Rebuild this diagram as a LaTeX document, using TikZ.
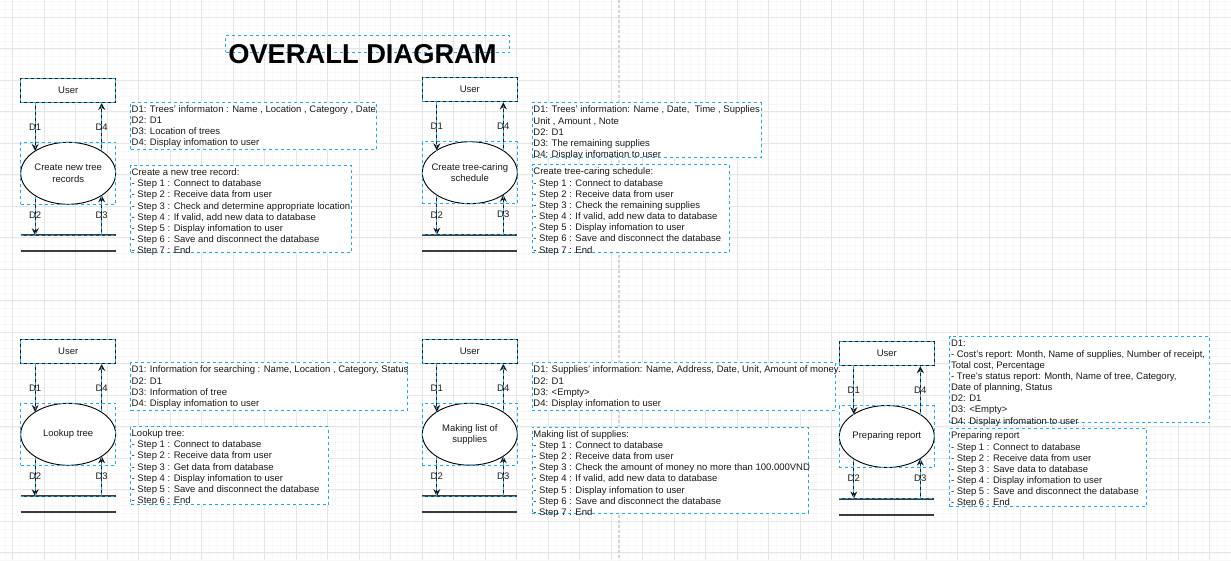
\documentclass[tikz,border=0pt]{standalone}
\usepackage{fontspec}
\setmainfont{Liberation Sans}
\usepackage{xcolor}
\usepackage{tikz}
\usetikzlibrary{arrows.meta,positioning,shapes.geometric}
\definecolor{ink}{RGB}{26,26,26}
\definecolor{selblue}{RGB}{30,170,240}
\definecolor{gridline}{RGB}{230,230,230}
\definecolor{gridfaint}{RGB}{248,248,248}
\definecolor{pagegray}{RGB}{212,212,212}
\definecolor{storegray}{RGB}{60,60,60}
\newcommand{\diagfont}{\fontsize{9.5}{11.15}\selectfont}
\tikzset{
  gridminor/.style={line width=0.6pt,draw=gridfaint},
  gridmajor/.style={line width=0.9pt,draw=gridline},
  pagebreak/.style={line width=1.6pt,draw=pagegray,dash pattern=on 3pt off 2pt},
  selected/.style={postaction={draw=selblue,line width=1pt,dash pattern=on 3pt off 3pt,-}},
  selframe/.style={draw=selblue,line width=1pt,dash pattern=on 3pt off 3pt,inner sep=0pt},
  userbox/.style={draw=ink,fill=white,line width=1.3pt,minimum width=95pt,minimum height=24pt,
    inner sep=0pt,font=\diagfont,text=ink,selected},
  process/.style={ellipse,draw=black,fill=white,line width=0.9pt,minimum width=95pt,minimum height=62pt,inner sep=0pt},
  proctext/.style={font=\diagfont,text=ink,align=center,inner sep=0pt},
  flow/.style={draw=ink,line width=1.3pt,-{Stealth[length=7pt,width=7pt]},selected},
  flowlabel/.style={font=\diagfont,text=ink,inner sep=0pt},
  store/.style={draw=storegray,line width=2pt},
  infobox/.style={selframe,fill=white,anchor=north west},
  infotext/.style={font=\diagfont,text=ink,align=left,anchor=north west,inner sep=0pt,xshift=1.5pt,yshift=-3.6pt}
}

\begin{document}
\begin{tikzpicture}[x=1pt,y=-1pt]
  \useasboundingbox (0,0) rectangle (1231,560);
  \fill[white] (0,0) rectangle (1231,560);
  \foreach \i in {-1,...,156} {\draw[gridminor] (12.7+7.875*\i,0)--(12.7+7.875*\i,560);}
  \foreach \i in {-2,...,70} {\draw[gridminor] (0,17.3+7.875*\i)--(1231,17.3+7.875*\i);}
  \foreach \i in {0,...,38} {\draw[gridmajor] (12.7+31.5*\i,0)--(12.7+31.5*\i,560);}
  \foreach \i in {0,...,17} {\draw[gridmajor] (0,17.3+31.5*\i)--(1231,17.3+31.5*\i);}
  \draw[pagebreak] (619,0)--(619,560);

  \node[selframe,anchor=north west,minimum width=284.3,minimum height=16.7] (titlebox) at (225,35) {};
  \node[font=\fontsize{27.3}{30}\selectfont\bfseries,anchor=base,inner sep=0pt] (title) at (362.5,63.3) {OVERALL DIAGRAM};

  \foreach \n/\x/\y/\txt in {cr/20.7/78.3/{Create new tree\\records},
      cs/422.3/77.7/{Create tree-caring\\schedule},
      lu/20.7/339.3/{Lookup tree},
      ml/422.3/339.2/{Making list of\\supplies},
      pr/839.3/341.5/{Preparing report}} {
    \node[userbox] (\n-user) at (\x+47.5,\y+12) {User};
    \node[process,label={[proctext]center:\txt}] (\n-proc) at (\x+47.5,\y+95) {};
    \node[selframe,minimum width=95,minimum height=62] (\n-frame) at (\n-proc) {};
    \coordinate (\n-d1) at (\x+14.5,\y+72.7);
    \coordinate (\n-d4) at (\x+81,\y+73);
    \coordinate (\n-d2) at (\x+14.5,\y+117.3);
    \coordinate (\n-d3) at (\x+81,\y+117);
    \coordinate (\n-store) at (\x,\y+157);
    \draw[store,selected] (\n-store)--++(95,0);
    \draw[store] (\x,\y+173)--++(95,0);
    \draw[flow] (\n-d1 |- \n-user.south) -- node[flowlabel]{D1} (\n-d1);
    \draw[flow] (\n-d4) -- node[flowlabel]{D4} (\n-d4 |- \n-user.south);
    \draw[flow] (\n-d2) -- node[flowlabel]{D2} (\n-d2 |- \n-store);
    \draw[flow] (\n-d3 |- \n-store) -- node[flowlabel]{D3} (\n-d3);
  }

  \node[infobox,minimum width=245.7,minimum height=47.3] (cr-data) at (130,101.7) {};
  \node[infotext] at (cr-data.north west) {D1: Trees' informaton : Name , Location , Category , Date\\D2: D1\\D3: Location of trees\\D4: Display infomation to user};
  \node[infobox,minimum width=221,minimum height=86.7] (cr-steps) at (130,165) {};
  \node[infotext] at (cr-steps.north west) {Create a new tree record:\\- Step 1 : Connect to database\\- Step 2 : Receive data from user\\- Step 3 : Check and determine appropriate location\\- Step 4 : If valid, add new data to database\\- Step 5 : Display infomation to user\\- Step 6 : Save and disconnect the database\\- Step 7 : End};

  \node[infobox,minimum width=229,minimum height=55] (cs-data) at (531.7,102.3) {};
  \node[infotext] at (cs-data.north west) {D1: Trees' information: Name , Date,\ \ Time , Supplies\\Unit , Amount , Note\\D2: D1\\D3: The remaining supplies\\D4: Display infomation to user};
  \node[infobox,minimum width=197.6,minimum height=87.4] (cs-steps) at (531.7,164.3) {};
  \node[infotext] at (cs-steps.north west) {Create tree-caring schedule:\\- Step 1 : Connect to database\\- Step 2 : Receive data from user\\- Step 3 : Check the remaining supplies\\- Step 4 : If valid, add new data to database\\- Step 5 : Display infomation to user\\- Step 6 : Save and disconnect the database\\- Step 7 : End};

  \node[infobox,minimum width=276.7,minimum height=47.7] (lu-data) at (130,362.3) {};
  \node[infotext] at (lu-data.north west) {D1: Information for searching : Name, Location , Category, Status\\D2: D1\\D3: Information of tree\\D4: Display infomation to user};
  \node[infobox,minimum width=197.7,minimum height=78.3] (lu-steps) at (130,426) {};
  \node[infotext] at (lu-steps.north west) {Lookup tree:\\- Step 1 : Connect to database\\- Step 2 : Receive data from user\\- Step 3 : Get data from database\\- Step 4 : Display infomation to user\\- Step 5 : Save and disconnect the database\\- Step 6 : End};

  \node[infobox,minimum width=303.3,minimum height=47.7] (ml-data) at (531.7,362.3) {};
  \node[infotext] at (ml-data.north west) {D1: Supplies' information: Name, Address, Date, Unit, Amount of money.\\D2: D1\\D3: <Empty>\\D4: Display infomation to user};
  \node[infobox,minimum width=276,minimum height=86] (ml-steps) at (531.7,426.7) {};
  \node[infotext] at (ml-steps.north west) {Making list of supplies:\\- Step 1 : Connect to database\\- Step 2 : Receive data from user\\- Step 3 : Check the amount of money no more than 100.000VND\\- Step 4 : If valid, add new data to database\\- Step 5 : Display infomation to user\\- Step 6 : Save and disconnect the database\\- Step 7 : End};

  \node[infobox,minimum width=260,minimum height=86.6] (pr-data) at (949.3,335.7) {};
  \node[infotext] at (pr-data.north west) {D1:\\- Cost's report: Month, Name of supplies, Number of receipt,\\Total cost, Percentage\\- Tree's status report: Month, Name of tree, Category,\\Date of planning, Status\\D2: D1\\D3: <Empty>\\D4: Display infomation to user};
  \node[infobox,minimum width=196.7,minimum height=77.7] (pr-steps) at (949.3,428.3) {};
  \node[infotext] at (pr-steps.north west) {Preparing report\\- Step 1 : Connect to database\\- Step 2 : Receive data from user\\- Step 3 : Save data to database\\- Step 4 : Display infomation to user\\- Step 5 : Save and disconnect the database\\- Step 6 : End};
\end{tikzpicture}
\end{document}
